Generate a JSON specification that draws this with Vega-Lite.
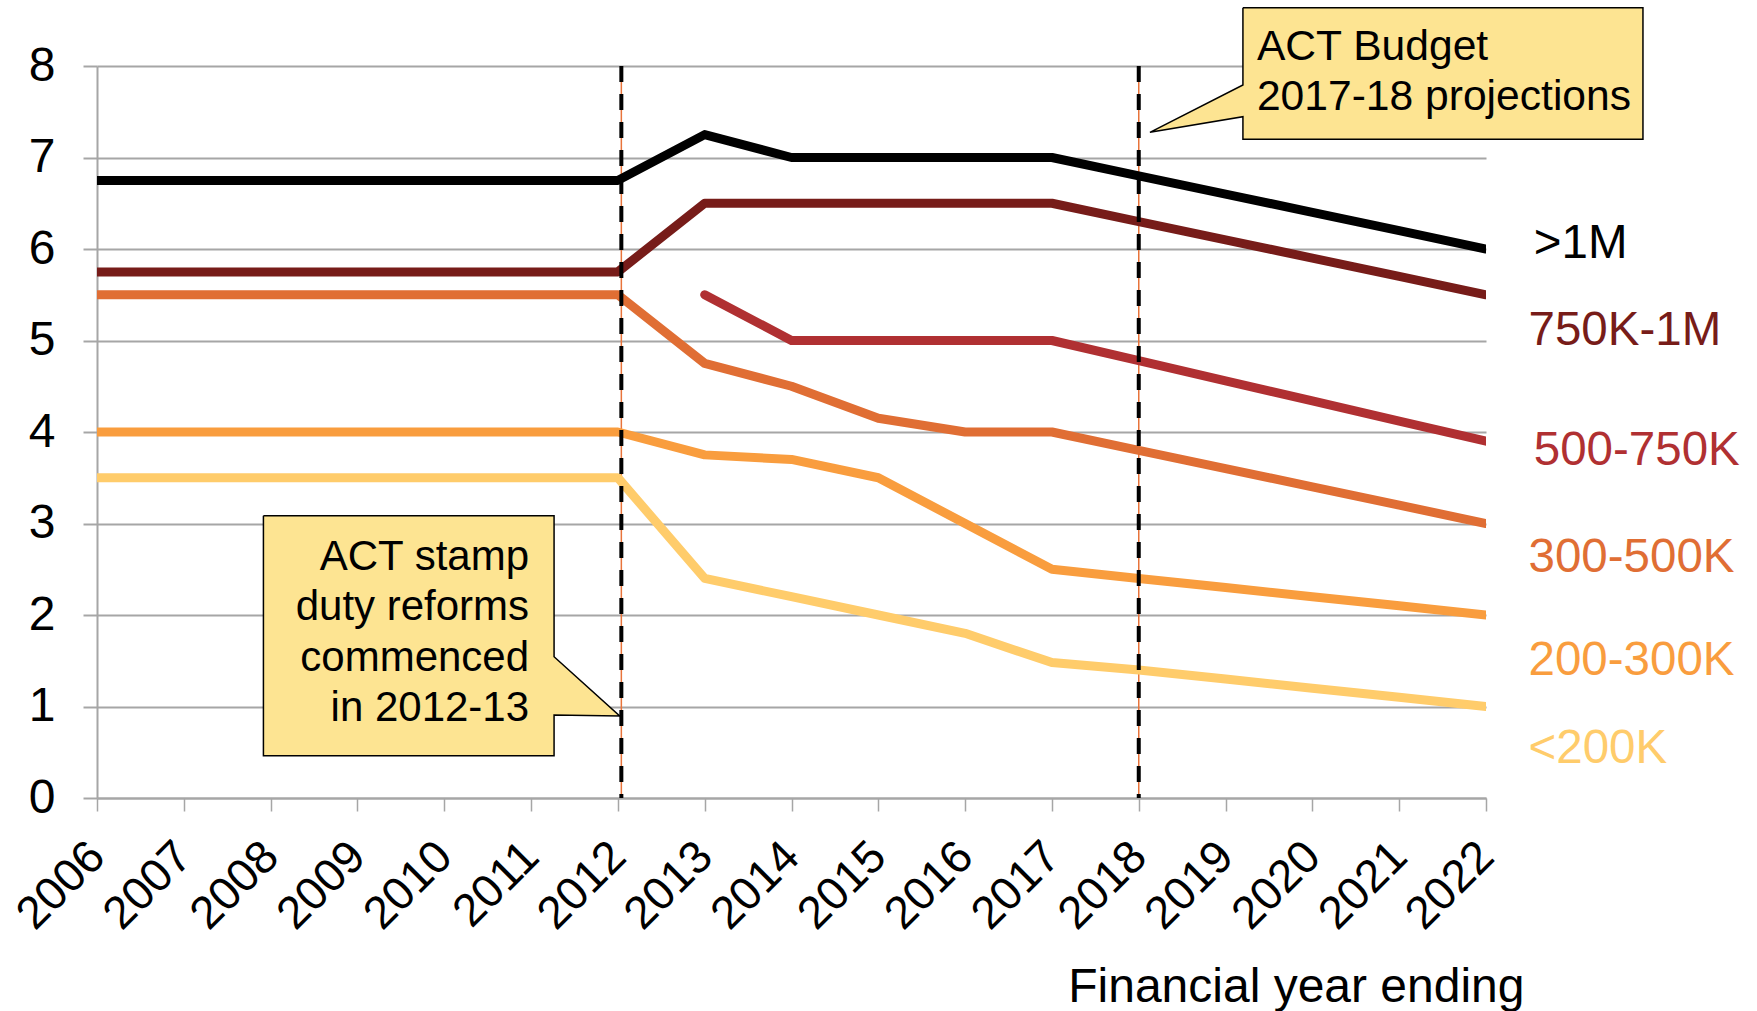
{
  "$schema": "https://vega.github.io/schema/vega-lite/v6.json",
  "width": 1389,
  "height": 732,
  "autosize": {"type": "none"},
  "padding": {"left": 97, "top": 66, "right": 271, "bottom": 213},
  "background": "white",
  "config": {
    "font": "Liberation Sans",
    "view": {"stroke": null},
    "axis": {"labelFont": "Liberation Sans", "titleFont": "Liberation Sans", "labelColor": "black", "titleColor": "black"}
  },
  "datasets": {
    "series": [
      {"band": ">1M", "year": 2006, "value": 6.75}, {"band": ">1M", "year": 2007, "value": 6.75}, {"band": ">1M", "year": 2008, "value": 6.75}, {"band": ">1M", "year": 2009, "value": 6.75}, {"band": ">1M", "year": 2010, "value": 6.75}, {"band": ">1M", "year": 2011, "value": 6.75}, {"band": ">1M", "year": 2012, "value": 6.75}, {"band": ">1M", "year": 2013, "value": 7.25}, {"band": ">1M", "year": 2014, "value": 7.0}, {"band": ">1M", "year": 2015, "value": 7.0}, {"band": ">1M", "year": 2016, "value": 7.0}, {"band": ">1M", "year": 2017, "value": 7.0}, {"band": ">1M", "year": 2018, "value": 6.8}, {"band": ">1M", "year": 2019, "value": 6.6}, {"band": ">1M", "year": 2020, "value": 6.4}, {"band": ">1M", "year": 2021, "value": 6.2}, {"band": ">1M", "year": 2022, "value": 6.0},
      {"band": "750K-1M", "year": 2006, "value": 5.75}, {"band": "750K-1M", "year": 2007, "value": 5.75}, {"band": "750K-1M", "year": 2008, "value": 5.75}, {"band": "750K-1M", "year": 2009, "value": 5.75}, {"band": "750K-1M", "year": 2010, "value": 5.75}, {"band": "750K-1M", "year": 2011, "value": 5.75}, {"band": "750K-1M", "year": 2012, "value": 5.75}, {"band": "750K-1M", "year": 2013, "value": 6.5}, {"band": "750K-1M", "year": 2014, "value": 6.5}, {"band": "750K-1M", "year": 2015, "value": 6.5}, {"band": "750K-1M", "year": 2016, "value": 6.5}, {"band": "750K-1M", "year": 2017, "value": 6.5}, {"band": "750K-1M", "year": 2018, "value": 6.3}, {"band": "750K-1M", "year": 2019, "value": 6.1}, {"band": "750K-1M", "year": 2020, "value": 5.9}, {"band": "750K-1M", "year": 2021, "value": 5.7}, {"band": "750K-1M", "year": 2022, "value": 5.5},
      {"band": "500-750K", "year": 2013, "value": 5.5}, {"band": "500-750K", "year": 2014, "value": 5.0}, {"band": "500-750K", "year": 2015, "value": 5.0}, {"band": "500-750K", "year": 2016, "value": 5.0}, {"band": "500-750K", "year": 2017, "value": 5.0}, {"band": "500-750K", "year": 2018, "value": 4.78}, {"band": "500-750K", "year": 2019, "value": 4.56}, {"band": "500-750K", "year": 2020, "value": 4.34}, {"band": "500-750K", "year": 2021, "value": 4.12}, {"band": "500-750K", "year": 2022, "value": 3.9},
      {"band": "300-500K", "year": 2006, "value": 5.5}, {"band": "300-500K", "year": 2007, "value": 5.5}, {"band": "300-500K", "year": 2008, "value": 5.5}, {"band": "300-500K", "year": 2009, "value": 5.5}, {"band": "300-500K", "year": 2010, "value": 5.5}, {"band": "300-500K", "year": 2011, "value": 5.5}, {"band": "300-500K", "year": 2012, "value": 5.5}, {"band": "300-500K", "year": 2013, "value": 4.75}, {"band": "300-500K", "year": 2014, "value": 4.5}, {"band": "300-500K", "year": 2015, "value": 4.15}, {"band": "300-500K", "year": 2016, "value": 4.0}, {"band": "300-500K", "year": 2017, "value": 4.0}, {"band": "300-500K", "year": 2018, "value": 3.8}, {"band": "300-500K", "year": 2019, "value": 3.6}, {"band": "300-500K", "year": 2020, "value": 3.4}, {"band": "300-500K", "year": 2021, "value": 3.2}, {"band": "300-500K", "year": 2022, "value": 3.0},
      {"band": "200-300K", "year": 2006, "value": 4.0}, {"band": "200-300K", "year": 2007, "value": 4.0}, {"band": "200-300K", "year": 2008, "value": 4.0}, {"band": "200-300K", "year": 2009, "value": 4.0}, {"band": "200-300K", "year": 2010, "value": 4.0}, {"band": "200-300K", "year": 2011, "value": 4.0}, {"band": "200-300K", "year": 2012, "value": 4.0}, {"band": "200-300K", "year": 2013, "value": 3.75}, {"band": "200-300K", "year": 2014, "value": 3.7}, {"band": "200-300K", "year": 2015, "value": 3.5}, {"band": "200-300K", "year": 2016, "value": 3.0}, {"band": "200-300K", "year": 2017, "value": 2.5}, {"band": "200-300K", "year": 2018, "value": 2.4}, {"band": "200-300K", "year": 2019, "value": 2.3}, {"band": "200-300K", "year": 2020, "value": 2.2}, {"band": "200-300K", "year": 2021, "value": 2.1}, {"band": "200-300K", "year": 2022, "value": 2.0},
      {"band": "<200K", "year": 2006, "value": 3.5}, {"band": "<200K", "year": 2007, "value": 3.5}, {"band": "<200K", "year": 2008, "value": 3.5}, {"band": "<200K", "year": 2009, "value": 3.5}, {"band": "<200K", "year": 2010, "value": 3.5}, {"band": "<200K", "year": 2011, "value": 3.5}, {"band": "<200K", "year": 2012, "value": 3.5}, {"band": "<200K", "year": 2013, "value": 2.4}, {"band": "<200K", "year": 2014, "value": 2.2}, {"band": "<200K", "year": 2015, "value": 2.0}, {"band": "<200K", "year": 2016, "value": 1.8}, {"band": "<200K", "year": 2017, "value": 1.48}, {"band": "<200K", "year": 2018, "value": 1.4}, {"band": "<200K", "year": 2019, "value": 1.3}, {"band": "<200K", "year": 2020, "value": 1.2}, {"band": "<200K", "year": 2021, "value": 1.1}, {"band": "<200K", "year": 2022, "value": 1.0}
    ],
    "markers": [{"year": 2012.04, "kind": "reform"}, {"year": 2018, "kind": "budget"}],
    "callouts": [
      {"id": "reform", "k": 1, "year": 2007.917, "value": 3.085},
      {"id": "reform", "k": 2, "year": 2011.265, "value": 3.085},
      {"id": "reform", "k": 3, "year": 2011.265, "value": 1.544},
      {"id": "reform", "k": 4, "year": 2012.021, "value": 0.896},
      {"id": "reform", "k": 5, "year": 2011.265, "value": 0.907},
      {"id": "reform", "k": 6, "year": 2011.265, "value": 0.462},
      {"id": "reform", "k": 7, "year": 2007.917, "value": 0.462},
      {"id": "reform", "k": 8, "year": 2007.917, "value": 3.085},
      {"id": "budget", "k": 1, "year": 2019.2, "value": 8.637},
      {"id": "budget", "k": 2, "year": 2023.808, "value": 8.637},
      {"id": "budget", "k": 3, "year": 2023.808, "value": 7.199},
      {"id": "budget", "k": 4, "year": 2019.2, "value": 7.199},
      {"id": "budget", "k": 5, "year": 2019.2, "value": 7.446},
      {"id": "budget", "k": 6, "year": 2018.129, "value": 7.275},
      {"id": "budget", "k": 7, "year": 2019.2, "value": 7.792},
      {"id": "budget", "k": 8, "year": 2019.2, "value": 8.637}
    ],
    "labels": [
      {"band": ">1M", "year": 2022.55, "value": 5.902},
      {"band": "750K-1M", "year": 2022.49, "value": 4.951},
      {"band": "500-750K", "year": 2022.55, "value": 3.639},
      {"band": "300-500K", "year": 2022.49, "value": 2.47},
      {"band": "200-300K", "year": 2022.49, "value": 1.344},
      {"band": "<200K", "year": 2022.49, "value": 0.383}
    ]
  },
  "encoding": {
    "x": {
      "field": "year", "type": "quantitative",
      "scale": {"domain": [2006, 2022], "nice": false, "zero": false},
      "axis": {
        "values": [2006, 2007, 2008, 2009, 2010, 2011, 2012, 2013, 2014, 2015, 2016, 2017, 2018, 2019, 2020, 2021, 2022],
        "format": "d", "labelAngle": -45, "labelAlign": "right", "labelBaseline": "middle",
        "labelFontSize": 46, "labelPadding": 38, "labelOverlap": false, "labelFlush": false,
        "tickSize": 13, "tickColor": "#A6A6A6", "tickWidth": 1.5,
        "domainColor": "#A6A6A6", "domainWidth": 2, "grid": false,
        "title": "Financial year ending", "titleFontSize": 48, "titleFontWeight": "normal",
        "titleAlign": "right", "titleAnchor": "start", "titleBaseline": "alphabetic", "titleX": 1427, "titleY": 203
      }
    },
    "y": {
      "field": "value", "type": "quantitative",
      "scale": {"domain": [0, 8], "nice": false},
      "axis": {
        "values": [0, 1, 2, 3, 4, 5, 6, 7, 8], "labelFontSize": 48, "labelPadding": 28,
        "tickSize": 14, "tickColor": "#A6A6A6", "tickWidth": 2,
        "domainColor": "#A6A6A6", "domainWidth": 2,
        "grid": true, "gridColor": "#A6A6A6", "gridWidth": 2, "title": null
      }
    }
  },
  "layer": [
    {
      "data": {"name": "markers"},
      "mark": {"type": "rule", "color": "#E8743B", "strokeWidth": 1.5},
      "encoding": {"y": null}
    },
    {
      "data": {"name": "series"},
      "mark": {"type": "line", "strokeWidth": 9, "strokeCap": "round", "strokeJoin": "round", "clip": true},
      "encoding": {
        "color": {
          "field": "band", "type": "nominal", "legend": null,
          "scale": {"domain": [">1M", "750K-1M", "500-750K", "300-500K", "200-300K", "<200K"],
                    "range": ["#000000", "#771C19", "#B03032", "#E06E34", "#F99D3E", "#FFCC6B"]}
        }
      }
    },
    {
      "data": {"name": "markers"},
      "mark": {"type": "rule", "color": "black", "strokeDash": [16, 12], "strokeWidth": 4},
      "encoding": {"y": null}
    },
    {
      "data": {"name": "callouts"},
      "mark": {"type": "line", "fill": "#FDE492", "stroke": "black", "strokeWidth": 1.5, "strokeJoin": "miter", "clip": false},
      "encoding": {
        "order": {"field": "k", "type": "quantitative"},
        "detail": {"field": "id", "type": "nominal"}
      }
    },
    {
      "data": {"values": [{"year": 2010.977, "value": 2.492, "note": "ACT stamp\nduty reforms\ncommenced\nin 2012-13"}]},
      "mark": {"type": "text", "align": "right", "baseline": "alphabetic", "fontSize": 42, "lineHeight": 50.5, "lineBreak": "\n", "color": "black"},
      "encoding": {"text": {"field": "note"}}
    },
    {
      "data": {"values": [{"year": 2019.361, "value": 8.066, "note": "ACT Budget\n2017-18 projections"}]},
      "mark": {"type": "text", "align": "left", "baseline": "alphabetic", "fontSize": 42.6, "lineHeight": 50, "lineBreak": "\n", "color": "black"},
      "encoding": {"text": {"field": "note"}}
    },
    {
      "data": {"name": "labels"},
      "mark": {"type": "text", "align": "left", "baseline": "alphabetic", "fontSize": 47.5},
      "encoding": {
        "text": {"field": "band"},
        "color": {
          "field": "band", "type": "nominal", "legend": null,
          "scale": {"domain": [">1M", "750K-1M", "500-750K", "300-500K", "200-300K", "<200K"],
                    "range": ["#000000", "#6E1716", "#A3262A", "#DA6030", "#F7922E", "#FDC65C"]}
        }
      }
    }
  ]
}
